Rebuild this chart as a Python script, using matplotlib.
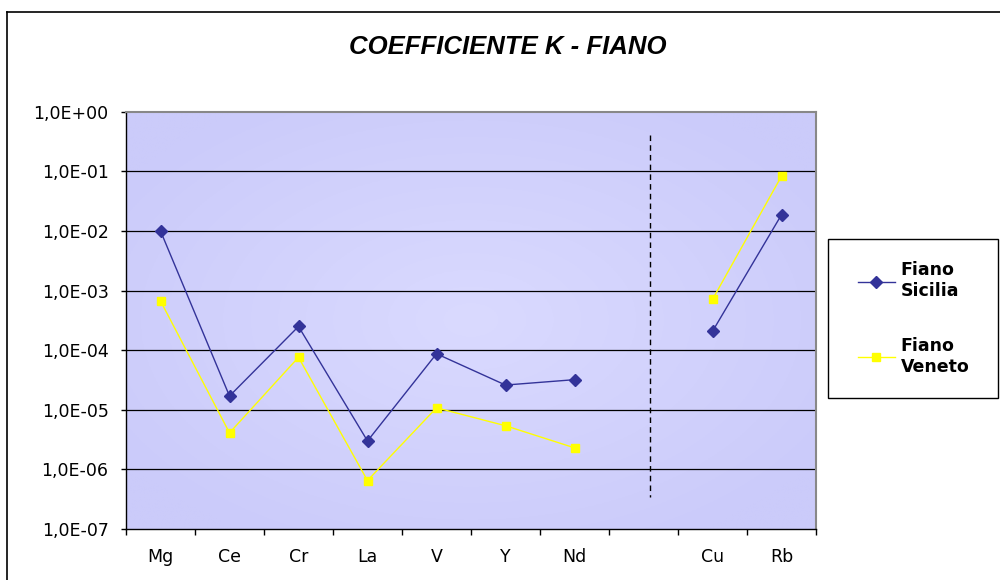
import numpy as np
import matplotlib
matplotlib.use('Agg')
import matplotlib.pyplot as plt
from matplotlib.ticker import FuncFormatter, FixedLocator, NullLocator
from matplotlib.lines import Line2D
from matplotlib.patches import Rectangle

# categories and values (blank slot separates Cu/Rb)
categories = ['Mg', 'Ce', 'Cr', 'La', 'V', 'Y', 'Nd', '', 'Cu', 'Rb']
sicilia = [1.0e-2, 1.7e-5, 2.5e-4, 3.0e-6, 8.7e-5, 2.6e-5, 3.2e-5, np.nan, 2.07e-4, 1.87e-2]
veneto = [6.7e-4, 4.1e-6, 7.6e-5, 6.5e-7, 1.08e-5, 5.4e-6, 2.3e-6, np.nan, 7.1e-4, 8.3e-2]
decades = [1e-7, 1e-6, 1e-5, 1e-4, 1e-3, 1e-2, 1e-1, 1e0]
separator_x = 7.1
separator_y = [0.41, 3.5e-7]

plt.rcParams['font.family'] = 'DejaVu Sans'

fig = plt.figure(figsize=(10, 5.8), dpi=100)
ax = fig.add_axes([0.126, 0.0879, 0.69, 0.7195])

x = np.arange(len(categories))
ax.set_yscale('log')
ax.set_xlim(-0.5, len(categories) - 0.5)
ax.set_ylim(1e-7, 1e0)

# radial gradient for the plot area
gx, gy = np.meshgrid(np.linspace(-1, 1, 300), np.linspace(-1, 1, 200))
r = np.clip(np.sqrt(gx**2 + gy**2) / 1.2, 0, 1)
c_in = np.array([218, 218, 255]) / 255
c_out = np.array([203, 203, 250]) / 255
img = c_in[None, None, :] * (1 - r[..., None]) + c_out[None, None, :] * r[..., None]
ax.imshow(img, extent=[0, 1, 0, 1], transform=ax.transAxes, aspect='auto', zorder=0)

for d in decades[1:-1]:
    ax.axhline(d, color='black', lw=0.9, zorder=1)

ax.plot([separator_x, separator_x], separator_y, color='black', lw=1.0,
        linestyle=(0, (4, 3)), zorder=2)

ax.plot(x, veneto, color='#FFFF00', lw=1.0, marker='s', ms=5.5,
        markeredgecolor='#FFFF00', markerfacecolor='#FFFF00', zorder=3)
ax.plot(x, sicilia, color='#333399', lw=1.0, marker='D', ms=6.2,
        markeredgecolor='#333399', markerfacecolor='#333399', zorder=4)

ax.yaxis.set_major_locator(FixedLocator(decades))
ax.yaxis.set_minor_locator(NullLocator())
ax.yaxis.set_major_formatter(FuncFormatter(lambda v, p: f'{v:.1E}'.replace('.', ',')))
ax.set_xticks(np.arange(len(categories) + 1) - 0.5)
ax.set_xticklabels([])
ax.set_xticks(x, minor=True)
ax.set_xticklabels(categories, minor=True)
ax.tick_params(axis='x', which='minor', length=0, pad=14, labelsize=12.5)
ax.tick_params(axis='x', which='major', length=4, direction='out', width=1)
ax.tick_params(axis='y', length=3.6, direction='out', width=1, labelsize=12.5, pad=9)

for side in ['top', 'right']:
    ax.spines[side].set_color('#888888')
    ax.spines[side].set_linewidth(1.5)
for side in ['left', 'bottom']:
    ax.spines[side].set_color('black')
    ax.spines[side].set_linewidth(1.0)

fig.text(0.508, 1 - 47 / 580, 'COEFFICIENTE K - FIANO', ha='center', va='center',
         fontsize=18.5, fontweight='bold', fontstyle='italic', family='Liberation Sans')

# outer chart frame (left and top visible)
fig.add_artist(Line2D([0.007, 0.007], [0, 1 - 12 / 580], color='black', lw=1.2,
                      transform=fig.transFigure))
fig.add_artist(Line2D([0.007, 1.0], [1 - 12 / 580, 1 - 12 / 580], color='black', lw=1.2,
                      transform=fig.transFigure))

# legend box
fig.add_artist(Rectangle((0.828, 1 - 398 / 580), 0.170, 159 / 580, transform=fig.transFigure,
                         facecolor='white', edgecolor='black', lw=1.0))
handles = [Line2D([], [], color='#333399', lw=1.0, marker='D', ms=6.2),
           Line2D([], [], color='#FFFF00', lw=1.0, marker='s', ms=5.5)]
leg = fig.legend(handles, ['Fiano\nSicilia', 'Fiano\nVeneto'],
                 loc='center', bbox_to_anchor=(0.9135, 1 - 318.5 / 580),
                 frameon=False, prop={'weight': 'bold', 'size': 12.5}, labelspacing=2.1,
                 handlelength=2.13, handletextpad=0.35, borderpad=0, borderaxespad=0)
leg.set_zorder(5)

fig.savefig('out.png', dpi=100)
